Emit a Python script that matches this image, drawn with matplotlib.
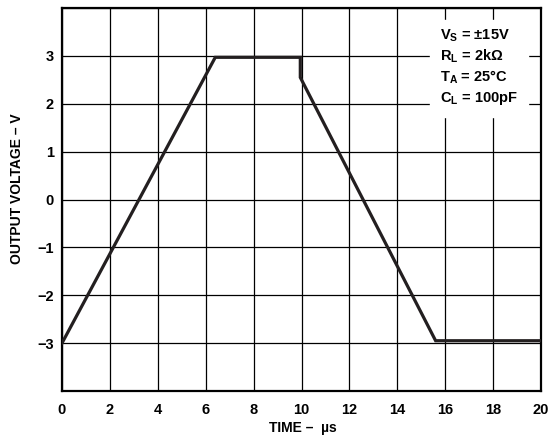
import matplotlib
matplotlib.use("Agg")
import matplotlib.pyplot as plt

plt.rcParams['font.family'] = ['Liberation Sans', 'DejaVu Sans']
plt.rcParams['mathtext.fontset'] = 'custom'
plt.rcParams['mathtext.bf'] = 'Liberation Sans:bold'
plt.rcParams['mathtext.rm'] = 'Liberation Sans:bold'

# waveform breakpoints
time_us = [0, 6.4, 9.95, 9.95, 15.6, 20]
volts = [-3, 2.97, 2.97, 2.55, -2.95, -2.95]

x_ticks = [0, 2, 4, 6, 8, 10, 12, 14, 16, 18, 20]
y_ticks = [-3, -2, -1, 0, 1, 2, 3]
conditions = [r"V$_\mathbf{S}$ = ±15V", r"R$_\mathbf{L}$ = 2kΩ",
              r"T$_\mathbf{A}$ = 25°C", r"C$_\mathbf{L}$ = 100pF"]

W, H = 550, 442
fig = plt.figure(figsize=(W / 100, H / 100), dpi=100)
ax = fig.add_axes([62 / W, 1 - 391 / H, 479 / W, 383 / H])
ax.set_xlim(0, 20); ax.set_ylim(-4, 4)

# grid
for xv in range(0, 21, 2):
    ax.axvline(xv, color="black", lw=0.9, zorder=1)
for yv in range(-4, 5):
    ax.axhline(yv, color="black", lw=0.9, zorder=1)

ax.plot(time_us, volts, color="#231f20", lw=2.3, solid_joinstyle="miter", zorder=3)

ax.set_xticks(x_ticks)
ax.set_yticks(y_ticks)
ax.set_yticklabels([str(v).replace("-", "\u2212") for v in y_ticks])
ax.tick_params(length=0, labelsize=10.5)
ax.tick_params(axis="x", pad=9)
ax.tick_params(axis="y", pad=6)
for lbl in ax.get_xticklabels() + ax.get_yticklabels():
    lbl.set_fontweight("bold")
for s in ax.spines.values():
    s.set_linewidth(1.6)

fig.text(303 / W, 1 - 428 / H, "TIME \u2013  \u00b5s", fontsize=10, fontweight="bold",
         ha="center", va="center")
fig.text(17 / W, 1 - 189 / H, "OUTPUT VOLTAGE \u2013 V", fontsize=10, fontweight="bold",
         rotation=90, ha="center", va="center")

# conditions block (white background over the grid)
ax.add_patch(plt.Rectangle((15.37, 1.72), 4.1, 2.03, color="white", zorder=2))
for i, t in enumerate(conditions):
    ax.text(15.78, 3.43 - i * 0.44, t, fontsize=10.5, fontweight="bold",
            va="center", ha="left", zorder=4)

fig.savefig("out.png", dpi=100)
